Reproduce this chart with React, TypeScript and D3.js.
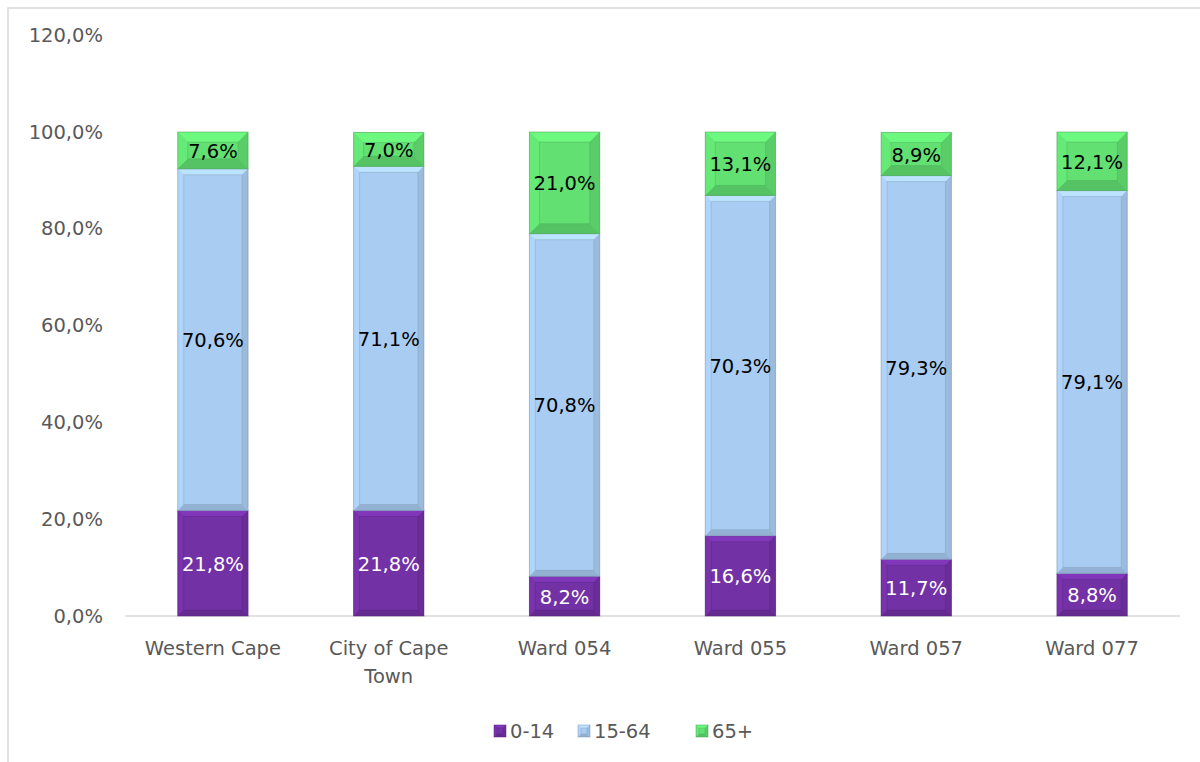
import React from "react";
import * as d3 from "d3";

const categories: string[][] = [["Western Cape"], ["City of Cape", "Town"], ["Ward 054"], ["Ward 055"], ["Ward 057"], ["Ward 077"]];
const age0to14 = [21.8, 21.8, 8.2, 16.6, 11.7, 8.8];
const age15to64 = [70.6, 71.1, 70.8, 70.3, 79.3, 79.1];
const age65plus = [7.6, 7.0, 21.0, 13.1, 8.9, 12.1];
const seriesNames = ["0-14", "15-64", "65+"];
const yTicks = [0, 20, 40, 60, 80, 100, 120];

const colors = ["#7331A6", "#A9CCF2", "#62E072"];
const labelColors = ["#ffffff", "#000000", "#000000"];
const FONT = "'DejaVu Sans', sans-serif";

const W = 1200, H = 762;
const plotLeft = 125, plotRight = 1180, plotTop = 35.2, plotBottom = 616;

function fmt(v: number) {
  return v.toFixed(1).replace(".", ",") + "%";
}

function Bevel({ x, y, w, h, color, b0 }: { x: number; y: number; w: number; h: number; color: string; b0: number }) {
  const b = Math.max(0, Math.min(b0, h / 2, w / 2));
  const c = d3.color(color)!;
  const light = c.brighter(0.3).formatHex();
  const lighter = c.brighter(0.12).formatHex();
  const dark = c.darker(0.25).formatHex();
  const darker = c.darker(0.4).formatHex();
  const stroke = c.darker(0.9).formatHex();
  const pts = (arr: number[][]) => arr.map((p) => p.join(",")).join(" ");
  return (
    <g>
      <rect x={x} y={y} width={w} height={h} fill={color} />
      <polygon points={pts([[x, y], [x + w, y], [x + w - b, y + b], [x + b, y + b]])} fill={light} />
      <polygon points={pts([[x, y], [x + b, y + b], [x + b, y + h - b], [x, y + h]])} fill={lighter} />
      <polygon points={pts([[x + w, y], [x + w, y + h], [x + w - b, y + h - b], [x + w - b, y + b]])} fill={dark} />
      <polygon points={pts([[x, y + h], [x + b, y + h - b], [x + w - b, y + h - b], [x + w, y + h]])} fill={darker} />
      <rect x={x + b} y={y + b} width={Math.max(0, w - 2 * b)} height={Math.max(0, h - 2 * b)} fill="none" stroke={stroke} strokeOpacity={0.35} strokeWidth={1} />
      <rect x={x} y={y} width={w} height={h} fill="none" stroke={stroke} strokeOpacity={0.5} strokeWidth={1} />
    </g>
  );
}

export default function App() {
  const x = d3.scaleBand<number>().domain(d3.range(categories.length)).range([plotLeft, plotRight]).paddingInner(0.6).paddingOuter(0.3);
  const y = d3.scaleLinear().domain([0, 120]).range([plotBottom, plotTop]);
  const series = [age0to14, age15to64, age65plus];

  const stack = categories.map((_, i) => {
    let acc = 0;
    return series.map((s, k) => {
      const y0 = acc;
      acc += s[i];
      return { k, y0, y1: acc, v: s[i] };
    });
  });

  const legendX = [494, 578, 696];

  return (
    <svg width={W} height={H} style={{ position: "absolute", left: 0, top: 0, background: "#fff" }} fontFamily={FONT}>
      <rect x={8} y={8} width={W} height={H} fill="#fff" stroke="#d9d9d9" strokeWidth={1.5} />
      {yTicks.map((t) => (
        <text key={t} x={103} y={y(t)} textAnchor="end" dominantBaseline="central" fontSize={19.5} fill="#595959">
          {t.toFixed(1).replace(".", ",") + "%"}
        </text>
      ))}
      <line x1={plotLeft} x2={plotRight} y1={plotBottom} y2={plotBottom} stroke="#d9d9d9" strokeWidth={1.5} />
      {stack.map((segs, i) => (
        <g key={i}>
          {segs.map((s) => {
            const x0 = x(i)!;
            const bw = x.bandwidth();
            const top = y(s.y1);
            const h = y(s.y0) - y(s.y1);
            return (
              <g key={s.k}>
                <Bevel x={x0} y={top} w={bw} h={h} color={colors[s.k]} b0={s.k === 2 ? 10 : 6} />
                <text x={x0 + bw / 2} y={top + h / 2 + 1} textAnchor="middle" dominantBaseline="central" fontSize={19.5} fill={labelColors[s.k]}>
                  {fmt(s.v)}
                </text>
              </g>
            );
          })}
          {categories[i].map((line, j) => (
            <text key={j} x={x(i)! + x.bandwidth() / 2} y={648 + j * 28} textAnchor="middle" dominantBaseline="central" fontSize={19.5} fill="#595959">
              {line}
            </text>
          ))}
        </g>
      ))}
      {seriesNames.map((n, k) => (
        <g key={n}>
          <Bevel x={legendX[k]} y={725} w={12} h={12} color={colors[k]} b0={3} />
          <text x={legendX[k] + 16} y={731} dominantBaseline="central" fontSize={19.5} fill="#595959">
            {n}
          </text>
        </g>
      ))}
    </svg>
  );
}
